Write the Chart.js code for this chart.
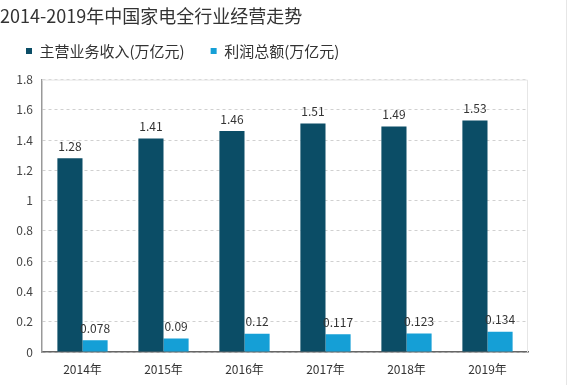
<!DOCTYPE html>
<html>
<head>
<meta charset="utf-8">
<script src="https://cdn.jsdelivr.net/npm/chart.js@4/dist/chart.umd.min.js"></script>
<style>
  html, body { margin: 0; padding: 0; background: #fff; }
  #wrap { width: 572px; height: 385px; position: relative; }
</style>
</head>
<body>
<div id="wrap"><canvas id="chart"></canvas></div>
<script>
// 年份和两组数据
const years = ['2014年', '2015年', '2016年', '2017年', '2018年', '2019年'];
const revenue = [1.28, 1.41, 1.46, 1.51, 1.49, 1.53];
const profit = [0.078, 0.09, 0.12, 0.117, 0.123, 0.134];
const yTicks = [0, 0.2, 0.4, 0.6, 0.8, 1, 1.2, 1.4, 1.6, 1.8];

const font = '"Noto Sans CJK SC", "Noto Sans", sans-serif';

// 图例下方多留一点空间
const legendGap = {
  id: 'legendGap',
  beforeInit(chart) {
    const fit = chart.legend.fit;
    chart.legend.fit = function () {
      fit.bind(chart.legend)();
      this.height += 11;
    };
  }
};

// 柱子上方的数值标签 + 绘图区浅色边框
const valueLabels = {
  id: 'valueLabels',
  beforeDatasetsDraw(chart) {
    const c = chart.ctx, a = chart.chartArea;
    c.save();
    c.strokeStyle = '#e6e6e6';
    c.lineWidth = 1;
    c.beginPath();
    c.moveTo(a.left, a.top + 0.5);
    c.lineTo(a.right - 0.5, a.top + 0.5);
    c.lineTo(a.right - 0.5, a.bottom);
    c.moveTo(566.5, 0);
    c.lineTo(566.5, 385);
    c.stroke();
    c.restore();
  },
  afterDatasetsDraw(chart) {
    const c = chart.ctx;
    c.save();
    c.font = '12px ' + font;
    c.fillStyle = '#333';
    c.textAlign = 'center';
    c.textBaseline = 'bottom';
    chart.data.datasets.forEach((ds, i) => {
      chart.getDatasetMeta(i).data.forEach((bar, j) => {
        c.fillText(String(ds.data[j]), bar.x, bar.y - 6);
      });
    });
    c.restore();
  }
};

new Chart(document.getElementById('chart'), {
  type: 'bar',
  data: {
    labels: years,
    datasets: [
      { label: '主营业务收入(万亿元)', data: revenue, backgroundColor: '#0b4d66' },
      { label: '利润总额(万亿元)', data: profit, backgroundColor: '#159fd6' }
    ]
  },
  options: {
    responsive: true,
    maintainAspectRatio: false,
    animation: false,
    layout: { padding: { left: 0, right: 44, top: 0, bottom: 0 } },
    datasets: { bar: { categoryPercentage: 0.62, barPercentage: 1 } },
    plugins: {
      title: {
        display: true,
        text: '2014-2019年中国家电全行业经营走势',
        align: 'start',
        color: '#333',
        font: { family: font, size: 18, weight: 'normal' },
        padding: { top: 5, bottom: -9 }
      },
      legend: {
        align: 'start',
        labels: {
          color: '#333',
          font: { family: font, size: 15 },
          boxWidth: 6,
          boxHeight: 6,
          padding: 26
        }
      },
      tooltip: { enabled: false }
    },
    scales: {
      x: {
        grid: { display: false, drawTicks: false },
        border: { color: '#666', width: 1.5 },
        ticks: { color: '#333', font: { family: font, size: 12 }, padding: 10 },
        afterFit(s) { s.height = 33; }
      },
      y: {
        min: 0,
        max: 1.8,
        afterBuildTicks(s) { s.ticks = yTicks.map(v => ({ value: v })); },
        grid: { color: '#d0d0d0', drawTicks: false },
        border: { color: '#999', width: 1.5, dash: [3, 3] },
        ticks: {
          color: '#444',
          font: { family: font, size: 12 },
          padding: 9,
          callback: v => String(v)
        },
        afterFit(s) { s.width = 42; }
      }
    }
  },
  plugins: [legendGap, valueLabels]
});
</script>
</body>
</html>
